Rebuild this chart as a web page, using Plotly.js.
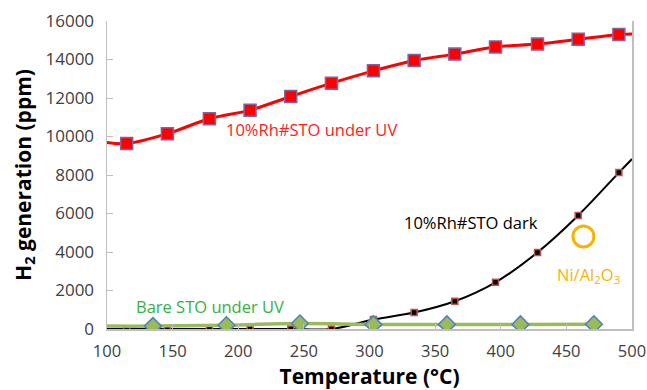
<!DOCTYPE html>
<html><head><meta charset="utf-8">
<script src="https://cdn.plot.ly/plotly-3.0.1.min.js"></script>
<style>html,body{margin:0;padding:0;background:#fff}#chart{width:647px;height:390px}</style>
</head><body><div id="chart"></div>
<script>
// Data
const tempRh = [115, 146, 178, 209, 240, 271, 303, 334, 365, 396, 428, 459, 490];
const rhUV   = [9630, 10145, 10920, 11370, 12080, 12770, 13410, 13950, 14280, 14650, 14800, 15050, 15300];
const rhDark = [0, 0, 0, 0, 0, 0, 490, 855, 1440, 2425, 3980, 5900, 8125];
// line ends at the axes (curve continues to the plot edges)
const rhUVLineT  = [100, 115, 146, 178, 209, 240, 271, 303, 334, 365, 396, 428, 459, 490, 500];
const rhUVLine   = [9690, 9630, 10145, 10920, 11370, 12080, 12770, 13410, 13950, 14280, 14650, 14800, 15050, 15300, 15330];
const rhDarkLineT = [100, 115, 146, 178, 209, 240, 271, 303, 334, 365, 396, 428, 459, 490, 500];
const rhDarkLine  = [0, 0, 0, 0, 0, 0, 0, 490, 855, 1440, 2425, 3980, 5900, 8125, 8830];
const tempBare = [135, 191, 247, 303, 359, 415, 471];
const bareUV   = [150, 200, 290, 240, 240, 240, 250];
const bareLineT = [100, 135, 191, 247, 303, 359, 415, 471];
const bareLine  = [150, 150, 200, 290, 240, 240, 240, 250];
const niT = [463];
const niV = [4810];
const xTicks = [100, 150, 200, 250, 300, 350, 400, 450, 500];
const yTicks = [0, 2000, 4000, 6000, 8000, 10000, 12000, 14000, 16000];

const F = '"Open Sans", "DejaVu Sans", sans-serif';
const traces = [
  {x: rhDarkLineT, y: rhDarkLine, mode: 'lines', line: {color: '#000000', width: 2, shape: 'spline', smoothing: 1}, hoverinfo: 'skip'},
  {x: tempRh, y: rhDark, mode: 'markers', marker: {symbol: 'square', size: 6, color: '#000000', line: {color: '#c0504d', width: 1.5}}},
  {x: bareLineT, y: bareLine, mode: 'lines', line: {color: '#9bbb59', width: 3.5, shape: 'spline', smoothing: 1}, hoverinfo: 'skip'},
  {x: tempBare, y: bareUV, mode: 'markers', marker: {symbol: 'diamond', size: 13, color: '#9bbb59', line: {color: '#4f81bd', width: 1.5}}},
  {x: rhUVLineT, y: rhUVLine, mode: 'lines', line: {color: '#ff0000', width: 3, shape: 'spline', smoothing: 1}, hoverinfo: 'skip'},
  {x: tempRh, y: rhUV, mode: 'markers', marker: {symbol: 'square', size: 12, color: '#ff0000', line: {color: '#8064a2', width: 1.5}}},
  {x: niT, y: niV, mode: 'markers', marker: {symbol: 'circle-open', size: 21, color: '#f5b400', line: {color: '#f5b400', width: 3}}}
];
const layout = {
  width: 647, height: 390,
  margin: {l: 107, r: 15, t: 21, b: 60.5},
  paper_bgcolor: '#ffffff', plot_bgcolor: '#ffffff',
  showlegend: false,
  font: {family: F, size: 16, color: '#404040'},
  xaxis: {
    range: [100, 500], tickvals: xTicks, ticktext: xTicks.map(String),
    showgrid: false, zeroline: false, showline: true, linecolor: '#bfbfbf', linewidth: 1.5,
    ticks: 'inside', ticklen: 5, tickcolor: '#bfbfbf', ticklabelstandoff: 7,
    tickfont: {family: F, size: 16.5, color: '#404040'},
    title: {text: 'Temperature (°C)', font: {family: F, size: 21, color: '#000000', weight: 'bold'}, standoff: 7}
  },
  yaxis: {
    range: [0, 16000], tickvals: yTicks, ticktext: yTicks.map(String),
    showgrid: false, zeroline: false, showline: true, mirror: true, linecolor: '#bfbfbf', linewidth: 1.5,
    ticks: 'inside', ticklen: 6, tickcolor: '#bfbfbf', ticklabelstandoff: 8,
    tickfont: {family: F, size: 17, color: '#404040'},
    title: {text: 'H<sub>2</sub> generation (ppm)', font: {family: F, size: 21, color: '#000000', weight: 'bold'}, standoff: 8}
  },
  annotations: [
    {x: 255.5, y: 10378, xref: 'x', yref: 'y', text: '10%Rh#STO under UV', showarrow: false, font: {family: F, size: 16.5, color: '#ff2020'}},
    {x: 377, y: 5521, xref: 'x', yref: 'y', text: '10%Rh#STO dark', showarrow: false, font: {family: F, size: 16.5, color: '#000000'}},
    {x: 178.7, y: 1182, xref: 'x', yref: 'y', text: 'Bare STO under UV', showarrow: false, font: {family: F, size: 16.5, color: '#33b24a'}},
    {x: 466.7, y: 2825, xref: 'x', yref: 'y', text: 'Ni/Al<sub>2</sub>O<sub>3</sub>', showarrow: false, font: {family: F, size: 16.5, color: '#f5b400'}}
  ]
};
Plotly.newPlot('chart', traces, layout, {staticPlot: true, displayModeBar: false});
</script></body></html>
